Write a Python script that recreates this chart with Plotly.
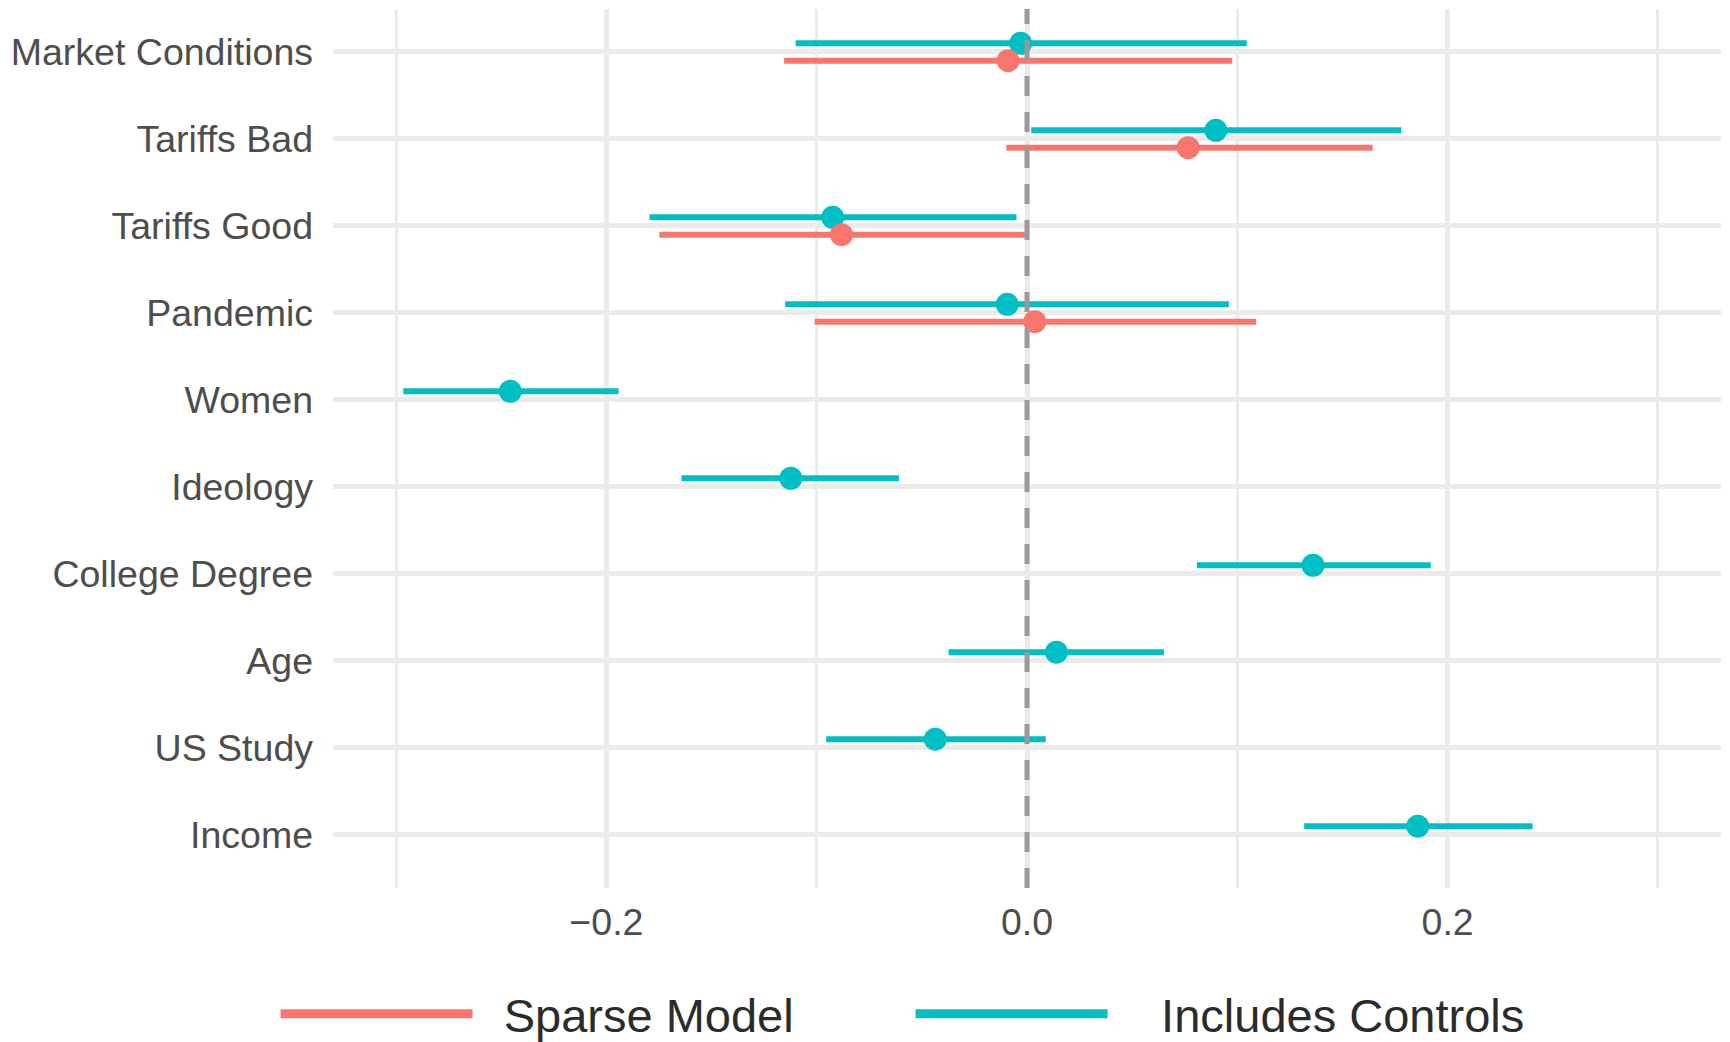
import plotly.graph_objects as go

categories = ["Market Conditions", "Tariffs Bad", "Tariffs Good", "Pandemic", "Women",
              "Ideology", "College Degree", "Age", "US Study", "Income"]

# Sparse Model (only first four terms)
sparse_cats = ["Market Conditions", "Tariffs Bad", "Tariffs Good", "Pandemic"]
sparse_est = [-0.009, 0.0766, -0.0882, 0.0037]
sparse_lo = [-0.1155, -0.0098, -0.1748, -0.101]
sparse_hi = [0.0976, 0.1644, -0.001, 0.109]

# Includes Controls
ctrl_cats = categories
ctrl_est = [-0.003, 0.0898, -0.0924, -0.0094, -0.2457, -0.1123, 0.136, 0.014, -0.0436, 0.1858]
ctrl_lo = [-0.110, 0.002, -0.1795, -0.115, -0.2966, -0.1643, 0.0808, -0.0373, -0.0955, 0.1318]
ctrl_hi = [0.1045, 0.178, -0.005, 0.096, -0.1942, -0.0609, 0.192, 0.0651, 0.0089, 0.2404]

RED = "#F8766D"
TEAL = "#00BFC4"
DODGE = 0.1

def seg(cats, lo, hi, off):
    xs, ys = [], []
    for c, a, b in zip(cats, lo, hi):
        p = categories.index(c) + off
        xs += [a, b, None]
        ys += [p, p, None]
    return xs, ys

fig = go.Figure()

series = [
    ("Includes Controls", TEAL, ctrl_cats, ctrl_est, ctrl_lo, ctrl_hi, -DODGE),
    ("Sparse Model", RED, sparse_cats, sparse_est, sparse_lo, sparse_hi, DODGE),
]

for name, col, cats, est, lo, hi, off in series:
    xs, ys = seg(cats, lo, hi, off)
    fig.add_trace(go.Scatter(x=xs, y=ys, mode="lines", line=dict(color=col, width=6),
                             showlegend=False, hoverinfo="skip", legendgroup=name))
    fig.add_trace(go.Scatter(x=est, y=[categories.index(c) + off for c in cats],
                             mode="markers", marker=dict(color=col, size=23, line=dict(width=0)),
                             showlegend=False, legendgroup=name, name=name))

# legend entries (Sparse Model first)
NB = "\u00a0"
for name, col, pad in [("Sparse Model", RED, NB * 2), ("Includes Controls", TEAL, NB * 3 + "\u2009")]:
    fig.add_trace(go.Scatter(x=[None], y=[None], mode="lines", name=pad + name,
                             line=dict(color=col, width=9), legendgroup=name))

fig.add_shape(type="line", xref="x", yref="paper", x0=0, x1=0, y0=0, y1=1,
              line=dict(color="#9A9A9A", width=5, dash="20px,16px"), layer="above")

fig.update_layout(
    width=1730, height=1042,
    margin=dict(l=333, r=9, t=9, b=154, autoexpand=False),
    paper_bgcolor="white", plot_bgcolor="white",
    font=dict(family="Liberation Sans, Arial, sans-serif"),
    xaxis=dict(range=[-0.33, 0.33], tickvals=[-0.2, 0.0, 0.2], ticktext=["\u22120.2", "0.0", "0.2"],
               showgrid=True, gridcolor="#EBEBEB", gridwidth=5, zeroline=False,
               showline=False, ticks="", ticklabelstandoff=8,
               tickfont=dict(size=37.5, color="#4D4D4D"),
               minor=dict(tickvals=[-0.3, -0.1, 0.1, 0.3], showgrid=True, gridcolor="#EBEBEB", gridwidth=2.5)),
    yaxis=dict(range=[9.61, -0.494], tickvals=list(range(len(categories))), ticktext=categories,
               showgrid=True, gridcolor="#EBEBEB", gridwidth=5, zeroline=False,
               showline=False, ticks="", ticklabelstandoff=19,
               tickfont=dict(size=37.5, color="#4D4D4D")),
    legend=dict(orientation="h", x=-0.0414, xanchor="left", y=-0.101, yanchor="top",
                itemwidth=192, entrywidth=428, entrywidthmode="pixels",
                font=dict(size=47, color="#2B2B2B"), bgcolor="rgba(0,0,0,0)"),
    showlegend=True,
)

fig.write_html("out.html")
